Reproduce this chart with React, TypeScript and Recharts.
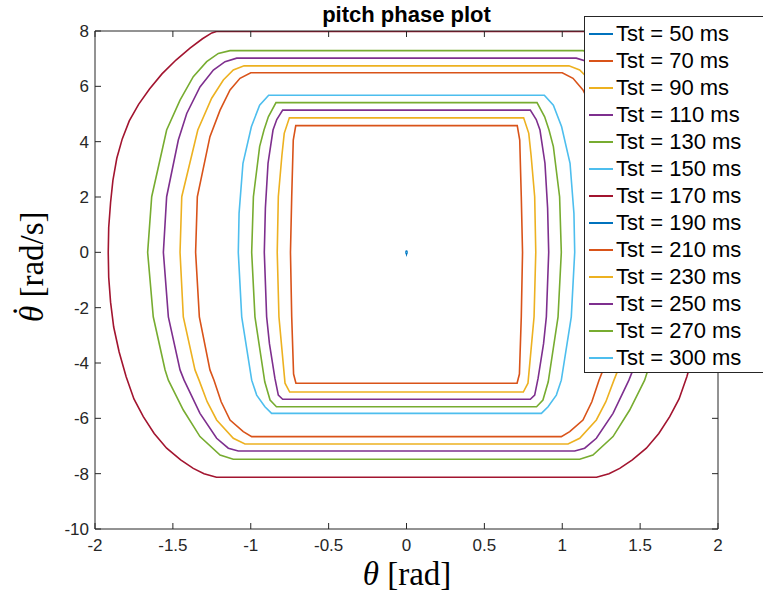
import React from "react";
import { LineChart, Line, XAxis, YAxis } from "recharts";

type Pt = [number, number];

// axis ticks
const xTicks = [-2, -1.5, -1, -0.5, 0, 0.5, 1, 1.5, 2];
const yTicks = [-10, -8, -6, -4, -2, 0, 2, 4, 6, 8];

const tstLabels = [
  "Tst = 50 ms",
  "Tst = 70 ms",
  "Tst = 90 ms",
  "Tst = 110 ms",
  "Tst = 130 ms",
  "Tst = 150 ms",
  "Tst = 170 ms",
  "Tst = 190 ms",
  "Tst = 210 ms",
  "Tst = 230 ms",
  "Tst = 250 ms",
  "Tst = 270 ms",
  "Tst = 300 ms",
];

// MATLAB default colour order, cycled
const lineColors = [
  "#0072BD", "#D95319", "#EDB120", "#7E2F8E", "#77AC30", "#4DBEEE", "#A2142F",
  "#0072BD", "#D95319", "#EDB120", "#7E2F8E", "#77AC30", "#4DBEEE",
];

// (theta, theta_dot) trajectories, one closed loop per stance time
const tst50: Pt[] = [[0, 0.06], [0.003, 0], [0, -0.06], [-0.003, 0], [0, 0.06]];

const tst70: Pt[] = [
  [0, -4.73], [-0.71, -4.73], [-0.725, -4.4], [-0.737, -2.33], [-0.745, 0], [-0.737, 2.01],
  [-0.727, 4.06], [-0.711, 4.58], [0.711, 4.58], [0.727, 4.06], [0.737, 2.01], [0.745, 0],
  [0.737, -2.33], [0.725, -4.4], [0.71, -4.73], [0, -4.73],
];

const tst90: Pt[] = [
  [0, -5.05], [-0.75, -5.05], [-0.78, -4.73], [-0.8, -3.5], [-0.819, -2.33], [-0.83, 0],
  [-0.823, 2.01], [-0.8, 3.5], [-0.785, 4.3], [-0.752, 4.86], [0.752, 4.86], [0.785, 4.3],
  [0.8, 3.5], [0.823, 2.01], [0.83, 0], [0.819, -2.33], [0.8, -3.5], [0.78, -4.73],
  [0.75, -5.05], [0, -5.05],
];

const tst110: Pt[] = [
  [0, -5.31], [-0.795, -5.31], [-0.823, -5.16], [-0.845, -4.55], [-0.88, -3.3], [-0.898, -2.33],
  [-0.913, 0], [-0.906, 1.6], [-0.889, 3.22], [-0.857, 4.42], [-0.833, 4.8], [-0.795, 5.14],
  [0.795, 5.14], [0.833, 4.8], [0.857, 4.42], [0.889, 3.22], [0.906, 1.6], [0.913, 0],
  [0.898, -2.33], [0.88, -3.3], [0.845, -4.55], [0.823, -5.16], [0.795, -5.31], [0, -5.31],
];

const tst130: Pt[] = [
  [0, -5.58], [-0.835, -5.58], [-0.876, -5.34], [-0.91, -4.68], [-0.973, -2.33], [-0.994, 0],
  [-0.983, 2.01], [-0.943, 3.82], [-0.915, 4.42], [-0.887, 4.9], [-0.838, 5.41],
  [0.838, 5.41], [0.887, 4.9], [0.915, 4.42], [0.943, 3.82], [0.983, 2.01], [0.994, 0],
  [0.973, -2.33], [0.91, -4.68], [0.876, -5.34], [0.835, -5.58], [0, -5.58],
];

const tst150: Pt[] = [
  [0, -5.82], [-0.866, -5.82], [-0.909, -5.58], [-0.962, -5.16], [-0.994, -4.62], [-1.058, -2.33],
  [-1.08, 0], [-1.075, 1.41], [-1.05, 3.22], [-0.996, 4.54], [-0.943, 5.32], [-0.885, 5.68],
  [0.885, 5.68], [0.943, 5.32], [0.996, 4.54], [1.05, 3.22], [1.075, 1.41], [1.08, 0],
  [1.058, -2.33], [0.994, -4.62], [0.962, -5.16], [0.909, -5.58], [0.866, -5.82], [0, -5.82],
];

const tst170: Pt[] = [
  [0, -8.13], [-1.22, -8.13], [-1.3, -8.0], [-1.369, -7.81], [-1.45, -7.5], [-1.54, -7.08],
  [-1.62, -6.55], [-1.69, -5.94], [-1.75, -5.3], [-1.8, -4.5], [-1.845, -3.6], [-1.88, -2.7],
  [-1.9, -1.8], [-1.912, -0.9], [-1.915, 0], [-1.912, 0.9], [-1.9, 1.8], [-1.885, 2.6],
  [-1.86, 3.4], [-1.825, 4.1], [-1.78, 4.75], [-1.72, 5.35], [-1.65, 5.9], [-1.57, 6.45],
  [-1.48, 6.95], [-1.39, 7.38], [-1.31, 7.72], [-1.25, 7.93], [-1.22, 7.98],
  [1.22, 7.98], [1.25, 7.93], [1.31, 7.72], [1.39, 7.38], [1.48, 6.95], [1.57, 6.45],
  [1.65, 5.9], [1.72, 5.35], [1.78, 4.75], [1.825, 4.1], [1.86, 3.4], [1.885, 2.6],
  [1.9, 1.8], [1.912, 0.9], [1.915, 0], [1.912, -0.9], [1.9, -1.8], [1.88, -2.7],
  [1.845, -3.6], [1.8, -4.5], [1.75, -5.3], [1.69, -5.94], [1.62, -6.55], [1.54, -7.08],
  [1.45, -7.5], [1.369, -7.81], [1.3, -8.0], [1.22, -8.13], [0, -8.13],
];

const tst190: Pt[] = [[0, 0.06], [0, -0.06]];

const tst210: Pt[] = [
  [0, -6.66], [-0.994, -6.66], [-1.048, -6.48], [-1.133, -6.06], [-1.19, -5.4], [-1.236, -4.62],
  [-1.262, -4.25], [-1.33, -2.33], [-1.354, 0], [-1.343, 2.01], [-1.262, 4.18], [-1.197, 5.14],
  [-1.133, 5.87], [-1.069, 6.29], [-1.0, 6.49], [1.0, 6.49], [1.069, 6.29], [1.133, 5.87],
  [1.197, 5.14], [1.262, 4.18], [1.343, 2.01], [1.354, 0], [1.33, -2.33], [1.262, -4.25],
  [1.236, -4.62], [1.19, -5.4], [1.133, -6.06], [1.048, -6.48], [0.994, -6.66], [0, -6.66],
];

const tst230: Pt[] = [
  [0, -6.93], [-1.037, -6.93], [-1.112, -6.72], [-1.219, -6.06], [-1.28, -5.4], [-1.332, -4.62],
  [-1.358, -4.25], [-1.433, -2.33], [-1.454, 0], [-1.443, 2.01], [-1.34, 4.42], [-1.251, 5.57],
  [-1.176, 6.23], [-1.112, 6.59], [-1.043, 6.74], [1.043, 6.74], [1.112, 6.59], [1.176, 6.23],
  [1.251, 5.57], [1.34, 4.42], [1.443, 2.01], [1.454, 0], [1.433, -2.33], [1.358, -4.25],
  [1.332, -4.62], [1.28, -5.4], [1.219, -6.06], [1.112, -6.72], [1.037, -6.93], [0, -6.93],
];

const tst250: Pt[] = [
  [0, -7.18], [-1.08, -7.18], [-1.144, -7.08], [-1.219, -6.72], [-1.326, -5.82], [-1.428, -4.62],
  [-1.454, -4.25], [-1.529, -2.33], [-1.561, 0], [-1.54, 2.01], [-1.465, 4.06], [-1.411, 5.02],
  [-1.326, 5.98], [-1.24, 6.59], [-1.165, 6.89], [-1.09, 7.02], [1.09, 7.02], [1.165, 6.89],
  [1.24, 6.59], [1.326, 5.98], [1.411, 5.02], [1.465, 4.06], [1.54, 2.01], [1.561, 0],
  [1.529, -2.33], [1.454, -4.25], [1.428, -4.62], [1.326, -5.82], [1.219, -6.72], [1.144, -7.08],
  [1.08, -7.18], [0, -7.18],
];

const tst270: Pt[] = [
  [0, -7.48], [-1.112, -7.48], [-1.197, -7.33], [-1.326, -6.66], [-1.433, -5.7], [-1.529, -4.62],
  [-1.55, -4.25], [-1.626, -2.33], [-1.662, 0], [-1.636, 2.01], [-1.54, 4.42], [-1.454, 5.5],
  [-1.369, 6.35], [-1.283, 6.89], [-1.208, 7.19], [-1.133, 7.29], [1.133, 7.29], [1.208, 7.19],
  [1.283, 6.89], [1.369, 6.35], [1.454, 5.5], [1.54, 4.42], [1.636, 2.01], [1.662, 0],
  [1.626, -2.33], [1.55, -4.25], [1.529, -4.62], [1.433, -5.7], [1.326, -6.66], [1.197, -7.33],
  [1.112, -7.48], [0, -7.48],
];

const tst300: Pt[] = [[0, 0.02], [0, -0.02]];

const trajectories = [
  tst50, tst70, tst90, tst110, tst130, tst150, tst170,
  tst190, tst210, tst230, tst250, tst270, tst300,
];

const W = 763;
const H = 596;
const plot = { left: 95, top: 31, right: 718, bottom: 529 };
const axisColor = "#262626";
const sansFont = "'Liberation Sans', Arial, Helvetica, sans-serif";
const serifFont = "'Liberation Serif', 'Times New Roman', serif";
const tickLen = 6;
const tickFont = 17;
const xAxisH = 30;
const yAxisW = 40;

const BottomTick = ({ x, y, payload }: any) => (
  <g>
    <line x1={x} x2={x} y1={y} y2={y - tickLen} stroke={axisColor} />
    <text x={x} y={y + 22} textAnchor="middle" fontSize={tickFont} fontFamily={sansFont} fill={axisColor}>
      {String(payload.value)}
    </text>
  </g>
);

const TopTick = ({ x, y }: any) => (
  <line x1={x} x2={x} y1={y} y2={y + tickLen} stroke={axisColor} />
);

const LeftTick = ({ x, y, payload }: any) => (
  <g>
    <line x1={x} x2={x + tickLen} y1={y} y2={y} stroke={axisColor} />
    <text x={x - 6} y={y + 6} textAnchor="end" fontSize={tickFont} fontFamily={sansFont} fill={axisColor}>
      {String(payload.value)}
    </text>
  </g>
);

const RightTick = ({ x, y }: any) => (
  <line x1={x} x2={x - tickLen} y1={y} y2={y} stroke={axisColor} />
);

export default function App() {
  return (
    <div style={{ position: "absolute", left: 0, top: 0, width: W, height: H, overflow: "hidden", background: "#fff" }}>
      <LineChart
        width={W}
        height={H}
        margin={{
          top: plot.top - 1,
          left: plot.left - yAxisW,
          right: W - plot.right - 1,
          bottom: H - plot.bottom - xAxisH,
        }}
      >
        <XAxis
          xAxisId="b"
          type="number"
          dataKey="x"
          domain={[-2, 2]}
          allowDataOverflow
          ticks={xTicks}
          interval={0}
          height={xAxisH}
          tickSize={0}
          tickMargin={0}
          tickLine={false}
          tick={<BottomTick />}
          axisLine={{ stroke: axisColor }}
        />
        <XAxis
          xAxisId="t"
          orientation="top"
          type="number"
          dataKey="x"
          domain={[-2, 2]}
          allowDataOverflow
          ticks={xTicks}
          interval={0}
          height={1}
          tickSize={0}
          tickMargin={0}
          tickLine={false}
          tick={<TopTick />}
          axisLine={{ stroke: axisColor }}
        />
        <YAxis
          yAxisId="l"
          type="number"
          domain={[-10, 8]}
          allowDataOverflow
          ticks={yTicks}
          interval={0}
          width={yAxisW}
          tickSize={0}
          tickMargin={0}
          tickLine={false}
          tick={<LeftTick />}
          axisLine={{ stroke: axisColor }}
        />
        <YAxis
          yAxisId="r"
          orientation="right"
          type="number"
          domain={[-10, 8]}
          allowDataOverflow
          ticks={yTicks}
          interval={0}
          width={1}
          tickSize={0}
          tickMargin={0}
          tickLine={false}
          tick={<RightTick />}
          axisLine={{ stroke: axisColor }}
        />
        {trajectories.map((pts, i) => (
          <Line
            key={tstLabels[i]}
            xAxisId="b"
            yAxisId="l"
            name={tstLabels[i]}
            data={pts.map(([x, y]) => ({ x, y }))}
            dataKey="y"
            type="linear"
            stroke={lineColors[i]}
            strokeWidth={1.6}
            dot={false}
            activeDot={false}
            isAnimationActive={false}
          />
        ))}
      </LineChart>

      {/* title and axis labels */}
      <svg width={W} height={H} style={{ position: "absolute", left: 0, top: 0, pointerEvents: "none" }}>
        <text x={406.5} y={22} textAnchor="middle" fontSize={22} fontWeight="bold" fontFamily={sansFont} fill="#000">
          pitch phase plot
        </text>
        <text x={407} y={585} textAnchor="middle" fontSize={33} fontFamily={serifFont} fill="#000">
          <tspan fontStyle="italic">θ</tspan> [rad]
        </text>
        <g transform="translate(43,252) rotate(-90)">
          <text x={-70} y={0} textAnchor="start" fontSize={33} fontFamily={serifFont} fill="#000">
            <tspan fontStyle="italic">θ</tspan> [rad/s]
          </text>
          <text x={-59} y={-7} textAnchor="middle" fontSize={33} fontFamily={serifFont} fill="#000">
            ˙
          </text>
        </g>
      </svg>

      {/* legend */}
      <div
        style={{
          position: "absolute",
          left: 584,
          top: 16,
          width: 200,
          paddingTop: 3,
          paddingBottom: 1,
          background: "#fff",
          border: `1px solid ${axisColor}`,
          fontFamily: sansFont,
          fontSize: 22,
          color: "#000",
        }}
      >
        {tstLabels.map((label, i) => (
          <div key={label} style={{ display: "flex", alignItems: "center", height: 27, whiteSpace: "nowrap" }}>
            <span style={{ display: "inline-block", width: 24, height: 2, marginLeft: 4, background: lineColors[i] }} />
            <span style={{ marginLeft: 3 }}>{label}</span>
          </div>
        ))}
      </div>
    </div>
  );
}
